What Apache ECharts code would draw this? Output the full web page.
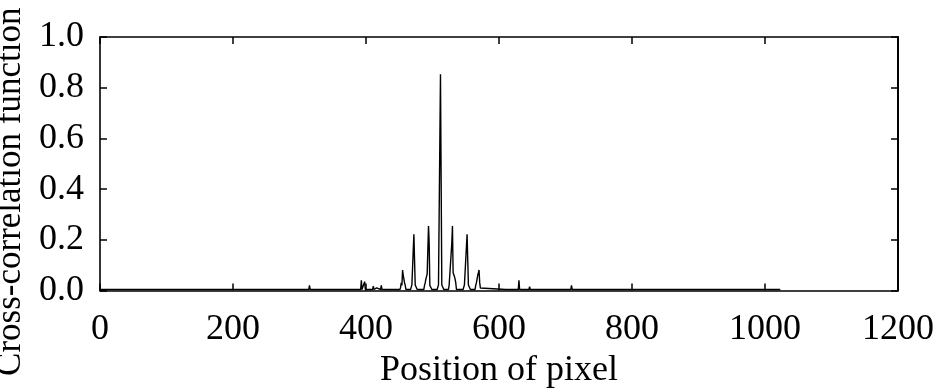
<!DOCTYPE html>
<html>
<head>
<meta charset="utf-8">
<script src="https://cdn.jsdelivr.net/npm/echarts@6/dist/echarts.min.js"></script>
<style>html,body{margin:0;padding:0;background:#fff;}#c{width:938px;height:388px;}</style>
</head>
<body>
<div id="c"></div>
<script>
// Pixel positions and cross-correlation values
const positions = [
  0, 314, 315, 316, 392, 393, 394, 397, 398, 399, 410, 411, 412, 415, 416, 417, 422, 423, 424,
  451, 452, 453, 454, 455, 456, 457, 458, 459, 460,
  467, 468, 469, 470, 471, 472, 473, 474, 475, 476, 477,
  487, 488, 489, 490, 491, 492, 493, 494, 495, 496, 497, 498, 499,
  507, 508, 509, 510, 511, 512, 513, 514, 515, 516, 517,
  524, 525, 526, 527, 528, 529, 530, 531, 532, 533, 534, 535, 536,
  546, 547, 548, 549, 550, 551, 552, 553, 554, 555, 556, 557,
  564, 565, 566, 567, 568, 569, 570, 571, 572, 573,
  610, 611, 612, 629, 630, 631, 645, 646, 647, 708, 709, 710, 783, 784, 785, 1023
];
const values = [
  0.004, 0.004, 0.02, 0.004, 0.004, 0.04, 0.004, 0.004, 0.035, 0.004, 0.004, 0.017, 0.004, 0.004, 0.01, 0.004, 0.004, 0.02, 0.004,
  0.004, 0.012, 0.03, 0.02, 0.081, 0.06, 0.045, 0.03, 0.02, 0.004,
  0.004, 0.004, 0.022, 0.022, 0.022, 0.222, 0.12, 0.022, 0.022, 0.022, 0.004,
  0.004, 0.02, 0.03, 0.045, 0.055, 0.065, 0.07, 0.254, 0.186, 0.02, 0.02, 0.02, 0.004,
  0.004, 0.004, 0.022, 0.022, 0.022, 0.853, 0.433, 0.022, 0.022, 0.022, 0.004,
  0.004, 0.02, 0.02, 0.02, 0.02, 0.186, 0.254, 0.07, 0.065, 0.055, 0.045, 0.03, 0.004,
  0.004, 0.004, 0.022, 0.022, 0.022, 0.022, 0.222, 0.12, 0.022, 0.022, 0.022, 0.004,
  0.004, 0.02, 0.03, 0.045, 0.06, 0.07, 0.081, 0.03, 0.01, 0.004,
  0.004, 0.01, 0.004, 0.004, 0.04, 0.004, 0.004, 0.015, 0.004, 0.004, 0.02, 0.004, 0.004, 0.01, 0.004, 0.004
];
const xTicks = [0, 200, 400, 600, 800, 1000, 1200];
const yTicks = [0.0, 0.2, 0.4, 0.6, 0.8, 1.0];

const seriesData = positions.map((p, i) => [p, values[i]]);
const font = 'Liberation Serif';
const axisLineStyle = { color: '#000', width: 1.6 };
const tickStyle = { color: '#000', width: 1.5 };

const chart = echarts.init(document.getElementById('c'), null, { renderer: 'canvas' });
chart.setOption({
  animation: false,
  backgroundColor: '#fff',
  grid: { left: 100, right: 40, top: 37, bottom: 97.5, containLabel: false, outerBoundsMode: 'none' },
  xAxis: [{
    type: 'value', position: 'bottom',
    min: xTicks[0], max: xTicks[xTicks.length - 1], interval: 200,
    name: 'Position of pixel', nameLocation: 'middle', nameGap: 55,
    nameTextStyle: { fontFamily: font, fontSize: 36, color: '#000' },
    axisLine: { show: true, onZero: false, lineStyle: axisLineStyle },
    axisTick: { show: true, inside: true, length: 7, lineStyle: tickStyle },
    axisLabel: { fontFamily: font, fontSize: 36, color: '#000', margin: 21, formatter: v => String(v) },
    splitLine: { show: false }
  }, {
    type: 'value', position: 'top',
    min: xTicks[0], max: xTicks[xTicks.length - 1], interval: 200,
    axisLine: { show: true, onZero: false, lineStyle: axisLineStyle },
    axisTick: { show: true, inside: true, length: 7, lineStyle: tickStyle },
    axisLabel: { show: false },
    splitLine: { show: false }
  }],
  yAxis: [{
    type: 'value', position: 'left',
    min: yTicks[0], max: yTicks[yTicks.length - 1], interval: 0.2,
    name: 'Cross-correlation function', nameLocation: 'middle', nameGap: 60,
    nameRotate: 90,
    nameTextStyle: { fontFamily: font, fontSize: 35, color: '#000', padding: [0, 56, 0, 0] },
    axisLine: { show: true, onZero: false, lineStyle: axisLineStyle },
    axisTick: { show: true, inside: true, length: 7, lineStyle: tickStyle },
    axisLabel: { fontFamily: font, fontSize: 36, color: '#000', margin: 16,
      formatter: v => v.toFixed(1) },
    splitLine: { show: false }
  }, {
    type: 'value', position: 'right',
    min: yTicks[0], max: yTicks[yTicks.length - 1], interval: 0.2,
    axisLine: { show: true, onZero: false, lineStyle: { color: '#000', width: 2 } },
    axisTick: { show: true, inside: true, length: 7, lineStyle: tickStyle },
    axisLabel: { show: false },
    splitLine: { show: false }
  }],
  series: [{
    type: 'line',
    xAxisIndex: 0, yAxisIndex: 0,
    data: seriesData,
    showSymbol: false,
    symbol: 'none',
    lineStyle: { color: '#000', width: 1.4 },
    clip: true
  }]
});
</script>
</body>
</html>
